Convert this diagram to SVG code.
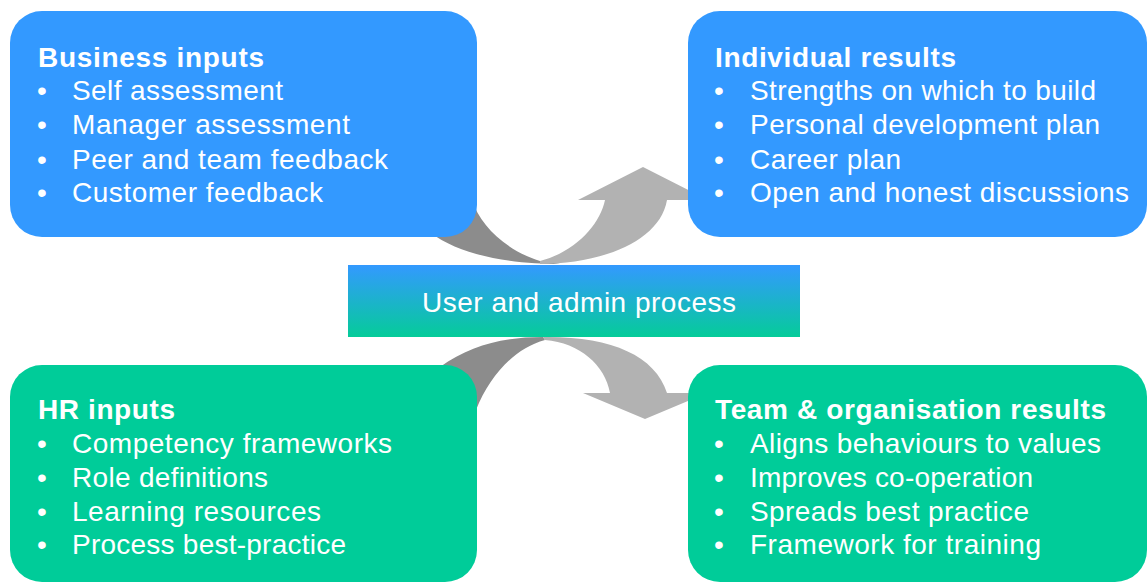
<svg xmlns="http://www.w3.org/2000/svg" width="1148" height="583" viewBox="0 0 1148 583">
<defs>
<linearGradient id="cg" x1="0" y1="0" x2="0" y2="1">
<stop offset="0" stop-color="#3399FF"/>
<stop offset="1" stop-color="#05CC99"/>
</linearGradient>
<style>
.blue{fill:#3399FF}
.green{fill:#00CC99}
.t{font-family:"Liberation Sans",Arial,sans-serif;font-size:28px;fill:#FFFFFF}
.b{font-weight:bold}
.dark{fill:#8C8C8C}
.light{fill:#B2B2B2}
</style>
</defs>
<rect width="1148" height="583" fill="#FFFFFF"/>
<g id="connectors">
<path class="dark" d="M420 200 L472 200 C480 225 505 250 540 261 L560 264 C520 264 462 258 430 232 L420 225 Z"/>
<path class="light" d="M540 264 C600 264 660 242 667 200 L708 200 L643 167 L578 200 L605 200 C600 225 575 252 540 261 Z"/>
<path class="dark" d="M440 367 C470 345 505 337 543 337 L545 340 C515 348 490 375 476 410 L440 410 Z"/>
<path class="light" d="M543 337 C610 336 655 355 667 393 L707 393 L645 419 L583 393 L610 393 C605 365 580 343 545 340 Z"/>
</g>
<g id="business-inputs">
<rect class="blue" x="10" y="11" width="467" height="226" rx="32"/>
<text class="t b" x="38" y="67" textLength="226" lengthAdjust="spacing">Business inputs</text>
<text class="t" x="37" y="100">•</text><text class="t" x="72" y="100" textLength="211" lengthAdjust="spacing">Self assessment</text>
<text class="t" x="37" y="134">•</text><text class="t" x="72" y="134" textLength="278" lengthAdjust="spacing">Manager assessment</text>
<text class="t" x="37" y="169">•</text><text class="t" x="72" y="169" textLength="316" lengthAdjust="spacing">Peer and team feedback</text>
<text class="t" x="37" y="202">•</text><text class="t" x="72" y="202" textLength="251" lengthAdjust="spacing">Customer feedback</text>
</g>
<g id="individual-results">
<rect class="blue" x="688" y="11" width="459" height="226" rx="32"/>
<text class="t b" x="715" y="67" textLength="241" lengthAdjust="spacing">Individual results</text>
<text class="t" x="714" y="100">•</text><text class="t" x="750" y="100" textLength="346" lengthAdjust="spacing">Strengths on which to build</text>
<text class="t" x="714" y="134">•</text><text class="t" x="750" y="134" textLength="350" lengthAdjust="spacing">Personal development plan</text>
<text class="t" x="714" y="169">•</text><text class="t" x="750" y="169" textLength="151" lengthAdjust="spacing">Career plan</text>
<text class="t" x="714" y="202">•</text><text class="t" x="750" y="202" textLength="379" lengthAdjust="spacing">Open and honest discussions</text>
</g>
<g id="process">
<rect x="348" y="265" width="452" height="72" fill="url(#cg)"/>
<text class="t" x="422" y="312" textLength="314" lengthAdjust="spacing">User and admin process</text>
</g>
<g id="hr-inputs">
<rect class="green" x="10" y="365" width="467" height="217" rx="32"/>
<text class="t b" x="38" y="419" textLength="137" lengthAdjust="spacing">HR inputs</text>
<text class="t" x="37" y="453">•</text><text class="t" x="72" y="453" textLength="320" lengthAdjust="spacing">Competency frameworks</text>
<text class="t" x="37" y="487">•</text><text class="t" x="72" y="487" textLength="196" lengthAdjust="spacing">Role definitions</text>
<text class="t" x="37" y="521">•</text><text class="t" x="72" y="521" textLength="249" lengthAdjust="spacing">Learning resources</text>
<text class="t" x="37" y="554">•</text><text class="t" x="72" y="554" textLength="274" lengthAdjust="spacing">Process best-practice</text>
</g>
<g id="team-results">
<rect class="green" x="688" y="365" width="459" height="217" rx="32"/>
<text class="t b" x="715" y="419" textLength="391" lengthAdjust="spacing">Team &amp; organisation results</text>
<text class="t" x="714" y="453">•</text><text class="t" x="750" y="453" textLength="351" lengthAdjust="spacing">Aligns behaviours to values</text>
<text class="t" x="714" y="487">•</text><text class="t" x="750" y="487" textLength="283" lengthAdjust="spacing">Improves co-operation</text>
<text class="t" x="714" y="521">•</text><text class="t" x="750" y="521" textLength="279" lengthAdjust="spacing">Spreads best practice</text>
<text class="t" x="714" y="554">•</text><text class="t" x="750" y="554" textLength="291" lengthAdjust="spacing">Framework for training</text>
</g>
</svg>
